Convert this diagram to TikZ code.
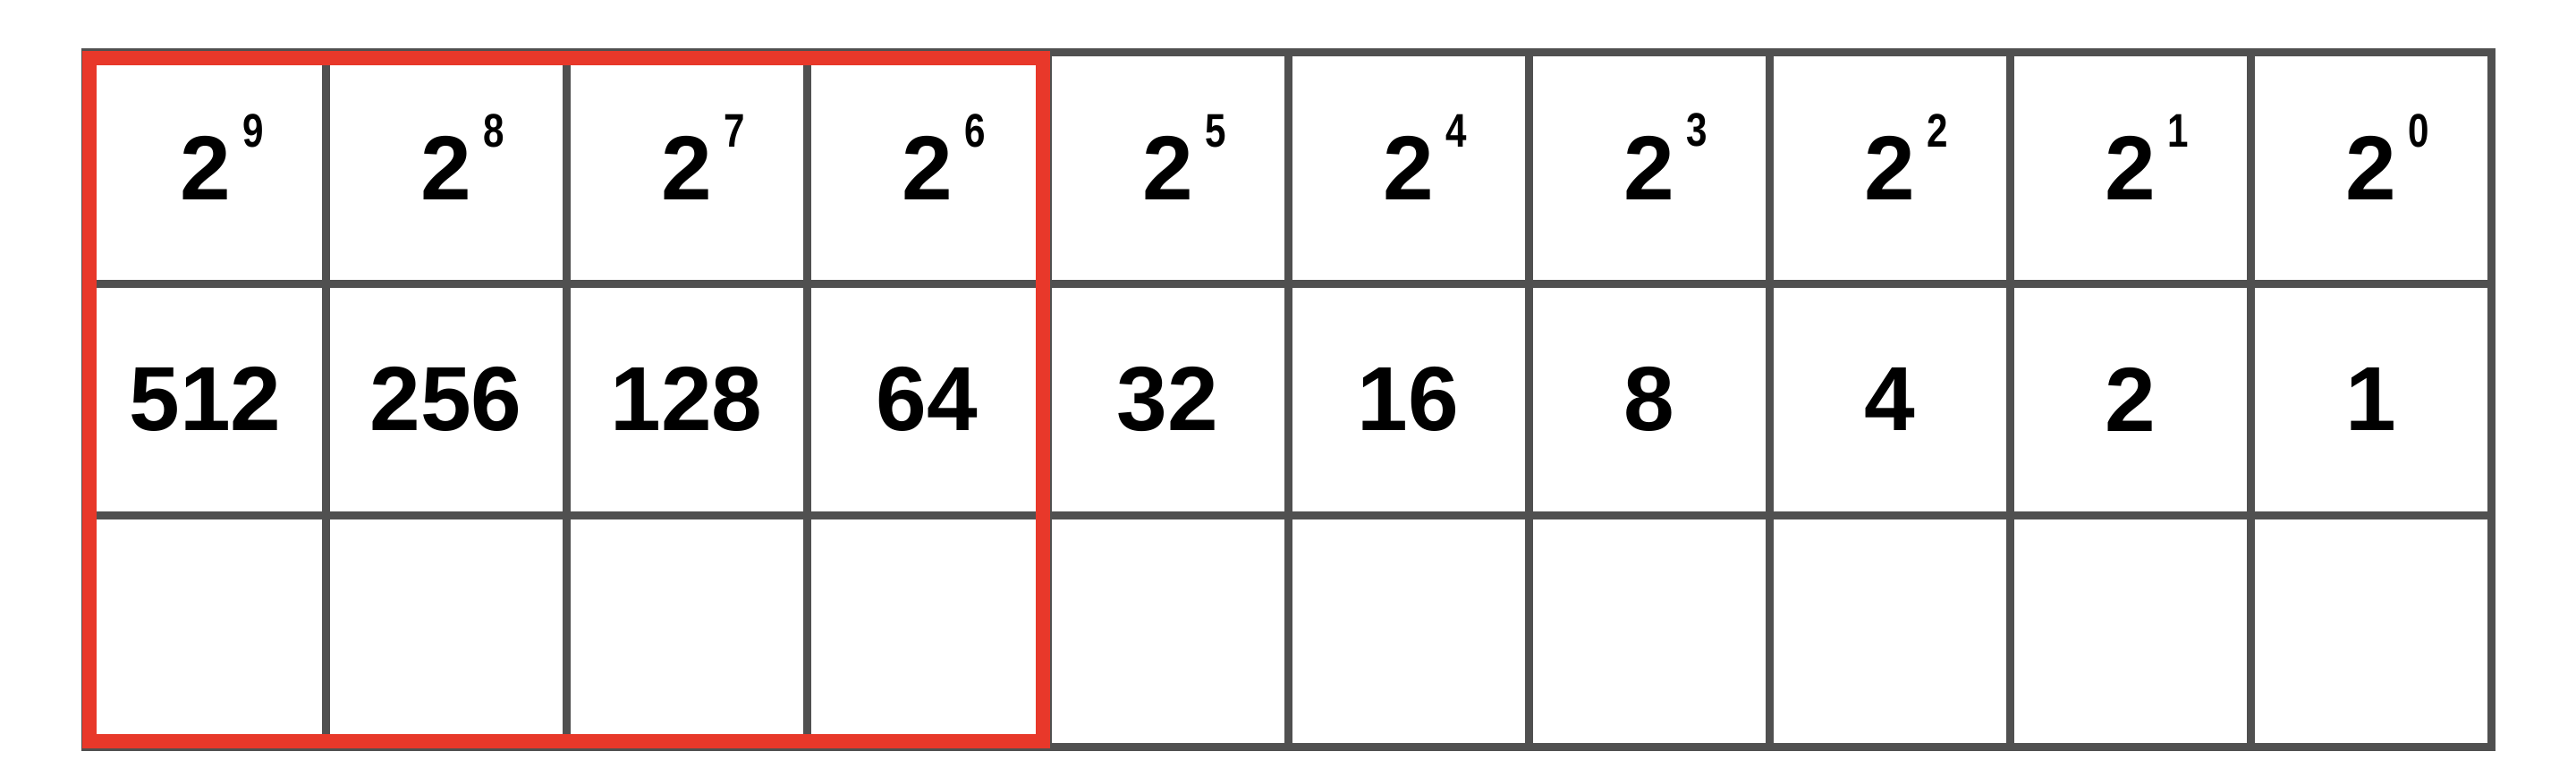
\documentclass[tikz,border=0pt]{standalone}
\usepackage{fontspec}
\setmainfont{Liberation Sans}
\usepackage{graphicx}
\definecolor{gridgray}{HTML}{505050}
\definecolor{boxred}{HTML}{E8382A}
\tikzset{
  cell/.style={rectangle, draw=gridgray, line width=0.09cm, minimum width=2.69cm, minimum height=2.59cm, inner sep=0pt, outer sep=0pt, font=\fontsize{29}{29}\selectfont\bfseries},
  base/.style={inner sep=0pt, font=\fontsize{29}{29}\selectfont\bfseries},
  expo/.style={inner sep=0pt, anchor=south west, font=\fontsize{15}{15}\selectfont\bfseries},
  redbox/.style={draw=boxred, line width=0.16cm}
}
\begin{document}
\begin{tikzpicture}
    \useasboundingbox (0,0) rectangle (28.8,-8.68);
    \foreach \ex/\val [count=\i from 0] in {9/512,8/256,7/128,6/64,5/32,4/16,3/8,2/4,1/2,0/1}{
        \node[cell](p\ex)at(2.295+2.69*\i,-1.875){};
        \node[base](two\ex)at(p\ex){2};
        \node[expo](x\ex)at([shift={(0.12,-0.14)}]two\ex.north east){\scalebox{0.8}[1]{\ex}};
        \node[cell](v\ex)at(2.295+2.69*\i,-4.465){\val};
        \node[cell](b\ex)at(2.295+2.69*\i,-7.055){};
    }
    \draw[redbox]([shift={(0.05,-0.07)}]p9.north west) rectangle ([shift={(-0.05,0.065)}]b6.south east);
\end{tikzpicture}
\end{document}
